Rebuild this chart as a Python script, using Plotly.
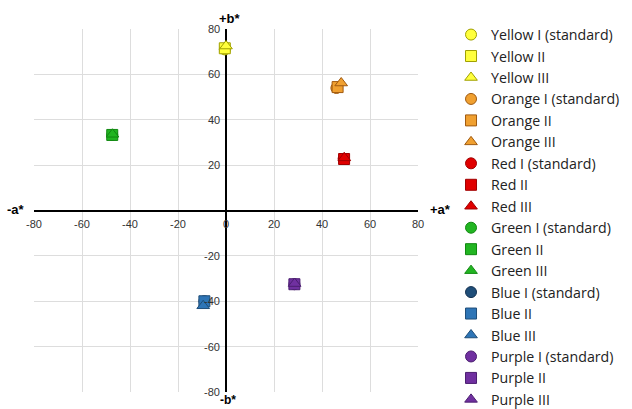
import plotly.graph_objects as go

# Data (CIELAB a*, b*)
names = ["Yellow I (standard)", "Yellow II", "Yellow III",
         "Orange I (standard)", "Orange II", "Orange III",
         "Red I (standard)", "Red II", "Red III",
         "Green I (standard)", "Green II", "Green III",
         "Blue I (standard)", "Blue II", "Blue III",
         "Purple I (standard)", "Purple II", "Purple III"]
a_star = [-0.5, -0.5, 0.0,
          46.0, 46.5, 48.0,
          49.0, 49.2, 49.3,
          -47.4, -47.4, -47.3,
          -9.0, -9.0, -9.5,
          28.5, 28.5, 28.6]
b_star = [71.0, 71.5, 72.5,
          54.0, 54.4, 56.2,
          22.8, 22.7, 23.2,
          33.3, 33.3, 33.6,
          -40.0, -40.0, -42.0,
          -32.5, -32.5, -32.2]
symbols = ["circle", "square", "triangle-up"] * 6
fills = ["#FFFF3C", "#FFFF3C", "#FFFF3C",
         "#F0A030", "#F0A030", "#F0A030",
         "#E00000", "#E00000", "#E00000",
         "#22B522", "#22B522", "#22B522",
         "#1F4E79", "#2E75B6", "#2E75B6",
         "#7030A0", "#7030A0", "#7030A0"]
edges = ["#A0A000", "#A0A000", "#A0A000",
         "#A05A10", "#A05A10", "#A05A10",
         "#A00000", "#A00000", "#A00000",
         "#118811", "#118811", "#118811",
         "#123050", "#1F4E79", "#1F4E79",
         "#4B1E70", "#4B1E70", "#4B1E70"]
tick_vals = [-80, -60, -40, -20, 0, 20, 40, 60, 80]

fig = go.Figure()
for n, a, b, s, f, e in zip(names, a_star, b_star, symbols, fills, edges):
    fig.add_trace(go.Scatter(x=[a], y=[b], mode="markers", name=n,
                             marker=dict(symbol=s, size=11, color=f,
                                         line=dict(color=e, width=1))))

tick_font = dict(family="Arial", size=11, color="#333")
ann = []
for v in tick_vals:
    ann.append(dict(x=v, y=0, xref="x", yref="y", text=str(v), showarrow=False,
                    yshift=-13, font=tick_font))
    if v != 0:
        ann.append(dict(x=0, y=v, xref="x", yref="y", text=str(v), showarrow=False,
                        xanchor="right", xshift=-4, font=tick_font))
bold = dict(family="Arial", size=13, color="black")
bold12 = dict(family="Arial", size=12, color="black")
ann += [
    dict(x=-80, y=0, xref="x", yref="y", text="<b>-a*</b>", showarrow=False, xanchor="right", xshift=-7, yshift=1, font=bold),
    dict(x=80, y=0, xref="x", yref="y", text="<b>+a*</b>", showarrow=False, xanchor="left", xshift=10, yshift=1, font=bold),
    dict(x=0, y=80, xref="x", yref="y", text="<b>+b*</b>", showarrow=False, yanchor="middle", xshift=4, yshift=11, font=bold),
    dict(x=0, y=-80, xref="x", yref="y", text="<b>-b*</b>", showarrow=False, yanchor="middle", xshift=2, yshift=-8, font=bold12),
]

fig.update_layout(
    width=632, height=409,
    margin=dict(l=34, r=214, t=29, b=17, autoexpand=False),
    paper_bgcolor="white", plot_bgcolor="white",
    showlegend=True,
    legend=dict(x=1.086, y=1.028, xanchor="left", yanchor="top", maxheight=1,
                font=dict(family="Open Sans", size=14.2, color="#222"),
                bgcolor="rgba(0,0,0,0)"),
    annotations=ann,
    xaxis=dict(range=[-80, 80], tickvals=tick_vals, showticklabels=False,
               showgrid=True, gridcolor="#DDDDDD", gridwidth=1,
               zeroline=True, zerolinecolor="black", zerolinewidth=1.5,
               showline=False, fixedrange=True),
    yaxis=dict(range=[-80, 80], tickvals=tick_vals, showticklabels=False,
               showgrid=True, gridcolor="#DDDDDD", gridwidth=1,
               zeroline=True, zerolinecolor="black", zerolinewidth=1.5,
               showline=False, fixedrange=True),
)

fig.write_html("out.html", config={"displayModeBar": False},
               post_script="document.body.style.margin='0';")
